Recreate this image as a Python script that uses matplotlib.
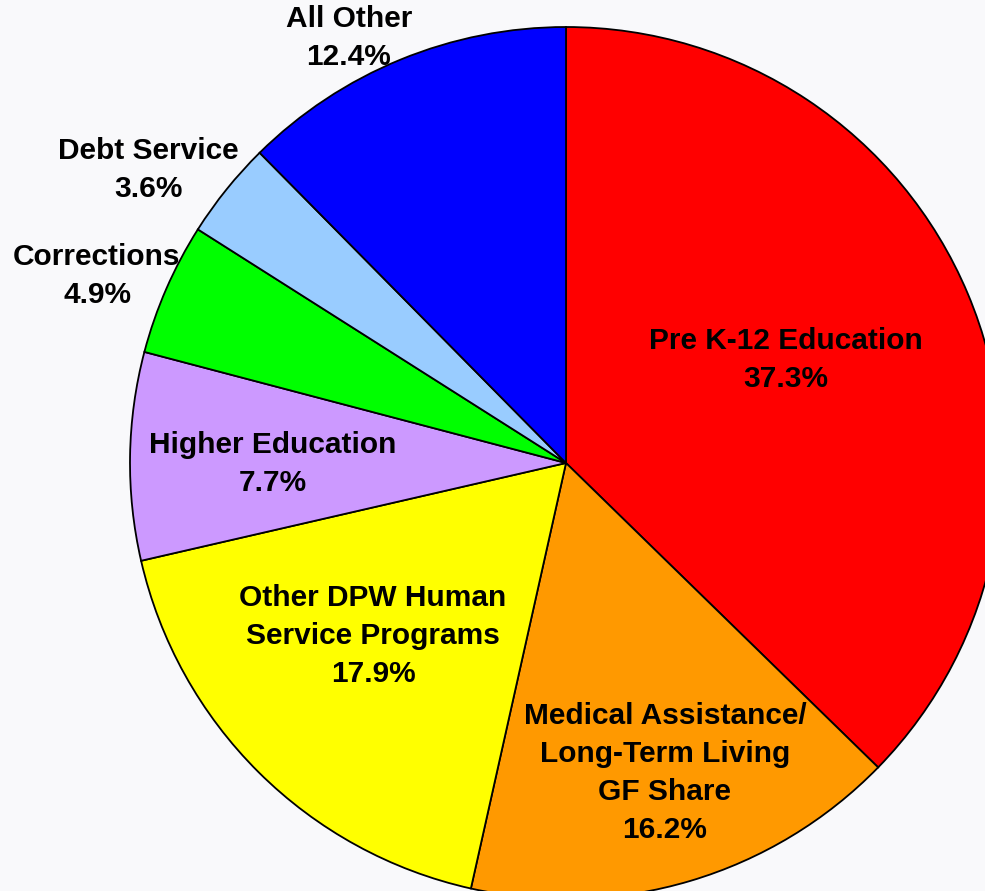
import numpy as np
import matplotlib
matplotlib.use('Agg')
import matplotlib.pyplot as plt

# budget shares, clockwise from 12 o'clock
labels = ['Pre K-12 Education', 'Medical Assistance/\nLong-Term Living\nGF Share',
          'Other DPW Human\nService Programs', 'Higher Education', 'Corrections',
          'Debt Service', 'All Other']
shares = [37.3, 16.2, 17.9, 7.7, 4.9, 3.6, 12.4]
colors = ['#ff0000', '#ff9900', '#ffff00', '#cc99ff', '#00ff00', '#99ccff', '#0000ff']

# label centres in pixel coords (x, y from top)
label_pos = [(786, 360), (665, 773), (373, 636), (273, 464), (97, 276), (148, 170), (349, 38)]

W, H = 985, 891
fig = plt.figure(figsize=(W/100, H/100), dpi=100)
fig.patch.set_facecolor('#f9f9fb')
ax = fig.add_axes([0, 0, 1, 1])

cx, cy, r = 566, H-463, 436
ax.pie(shares, colors=colors, startangle=90, counterclock=False, center=(cx, cy), radius=r,
       wedgeprops=dict(edgecolor='black', linewidth=1.3), frame=True)
ax.set_xlim(0, W)
ax.set_ylim(0, H)
ax.set_aspect('equal')
ax.axis('off')

for lab, val, (x, y) in zip(labels, shares, label_pos):
    ax.text(x, H-y, '%s\n%.1f%%' % (lab, val), ha='center', va='center',
            fontsize=21.5, fontweight='bold', family='Liberation Sans', linespacing=1.45)

plt.savefig('out.png', dpi=100, facecolor=fig.get_facecolor())
